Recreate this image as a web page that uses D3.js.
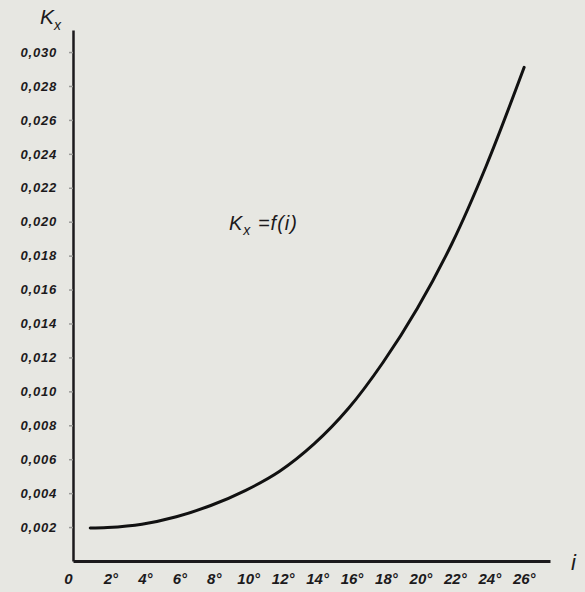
<!DOCTYPE html>
<html>
<head>
<meta charset="utf-8">
<script src="https://cdn.jsdelivr.net/npm/d3@7"></script>
<style>
  html, body { margin: 0; padding: 0; background: #e7e7e2; }
  #chart text { font-family: "Liberation Sans", Arial, sans-serif; font-style: italic; font-weight: bold; fill: #1c1a1c; }
</style>
</head>
<body>
<div id="chart"></div>
<script>
// Angle i (degrees) and coefficient Kx
const angles = [1, 2, 4, 6, 8, 10, 12, 14, 16, 18, 20, 22, 24, 26.2];
const kValues = [0.00194, 0.00197, 0.00217, 0.00261, 0.00327, 0.00415, 0.00529, 0.0069, 0.0090, 0.0117, 0.0149, 0.0187, 0.0233, 0.0291];

const yTicks = [0.002, 0.004, 0.006, 0.008, 0.010, 0.012, 0.014, 0.016, 0.018, 0.020, 0.022, 0.024, 0.026, 0.028, 0.030];
const yTickLabels = ["0,002", "0,004", "0,006", "0,008", "0,010", "0,012", "0,014", "0,016", "0,018", "0,020", "0,022", "0,024", "0,026", "0,028", "0,030"];
const xTicks = [0, 2, 4, 6, 8, 10, 12, 14, 16, 18, 20, 22, 24, 26];
const xTickLabels = ["0", "2°", "4°", "6°", "8°", "10°", "12°", "14°", "16°", "18°", "20°", "22°", "24°", "26°"];

const width = 585, height = 592;

const svg = d3.select("#chart")
    .append("svg")
    .attr("width", width)
    .attr("height", height);

const x = d3.scaleLinear().domain([0, 27.7]).range([73, 550]);
const y = d3.scaleLinear().domain([0, 0.0313]).range([561, 30]);

// Y axis
const yAxis = svg.append("g")
    .attr("transform", `translate(${x(0)},0)`)
    .call(d3.axisLeft(y)
        .tickValues(yTicks)
        .tickSize(4)
        .tickSizeOuter(0)
        .tickPadding(12)
        .tickFormat((d, i) => yTickLabels[i]));
yAxis.select(".domain").attr("stroke", "#1c1a1c").attr("stroke-width", 2.5);
yAxis.selectAll(".tick line").attr("stroke", "#9a9a98").attr("stroke-width", 1.5);
yAxis.selectAll("text")
    .style("font-size", "13px")
    .style("letter-spacing", "0.8px")
    .attr("fill", "#1c1a1c");

// X axis
const xAxis = svg.append("g")
    .attr("transform", `translate(0,${y(0)})`)
    .call(d3.axisBottom(x)
        .tickValues(xTicks)
        .tickSize(0)
        .tickPadding(12)
        .tickFormat((d, i) => xTickLabels[i]));
xAxis.select(".domain").attr("stroke", "#1c1a1c").attr("stroke-width", 3);
xAxis.selectAll("text")
    .style("font-size", "15px")
    .attr("fill", "#1c1a1c")
    .attr("dx", d => d === 0 ? -5 : 3);

// Curve
const line = d3.line()
    .x((d, i) => x(angles[i]))
    .y(d => y(d))
    .curve(d3.curveCatmullRom);

svg.append("path")
    .datum(kValues)
    .attr("d", line)
    .attr("fill", "none")
    .attr("stroke", "#111")
    .attr("stroke-width", 3)
    .attr("stroke-linecap", "round");

// Axis titles
const kTitle = svg.append("text")
    .attr("x", 40)
    .attr("y", 24)
    .style("font-size", "21px")
    .style("font-weight", "normal");
kTitle.append("tspan").text("K");
kTitle.append("tspan").attr("dy", 6).style("font-size", "14px").text("x");

svg.append("text")
    .attr("x", 571)
    .attr("y", 570)
    .style("font-size", "22px")
    .style("font-weight", "normal")
    .text("i");

// Formula label
const formula = svg.append("text")
    .attr("x", 229)
    .attr("y", 230)
    .style("font-size", "20px")
    .style("font-weight", "normal")
    .style("letter-spacing", "1px");
formula.append("tspan").text("K");
formula.append("tspan").attr("dy", 5).style("font-size", "14px").text("x");
formula.append("tspan").attr("dy", -5).text(" =f(i)");
</script>
</body>
</html>
